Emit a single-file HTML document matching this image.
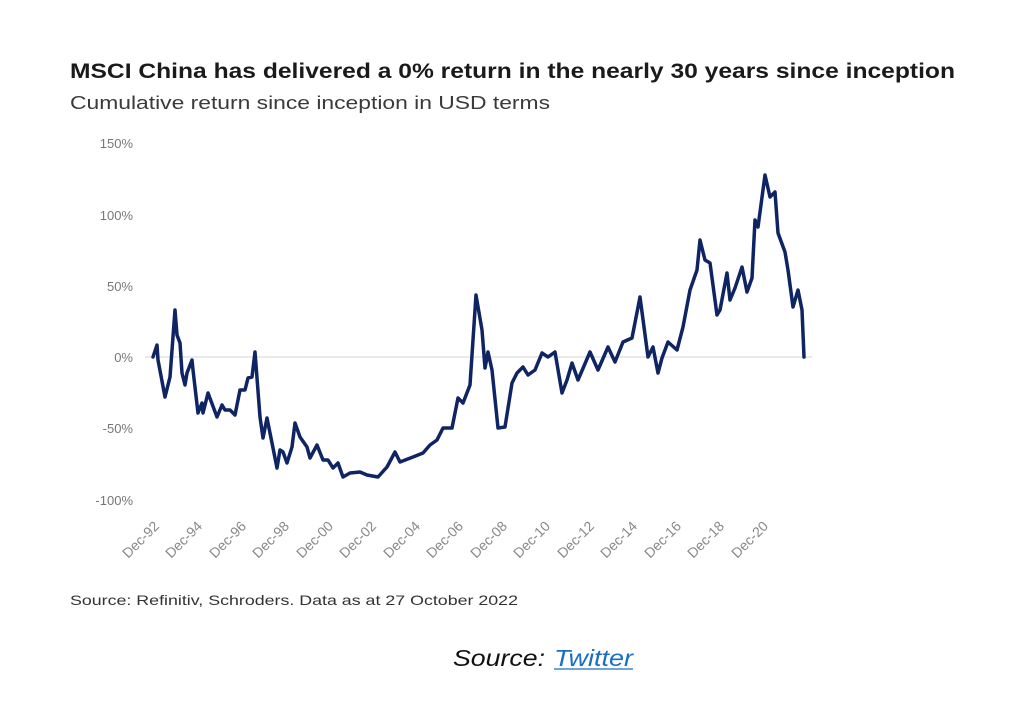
<!DOCTYPE html>
<html><head><meta charset="utf-8"><style>
html,body{margin:0;padding:0;background:#fff;}
svg{display:block;}
</style></head><body>
<svg width="1024" height="721" viewBox="0 0 1024 721" xmlns="http://www.w3.org/2000/svg" font-family="Liberation Sans, sans-serif">
<rect width="1024" height="721" fill="#fff"/>
<text x="70" y="78" font-size="21" font-weight="bold" fill="#1a1a1a" textLength="885" lengthAdjust="spacingAndGlyphs">MSCI China has delivered a 0% return in the nearly 30 years since inception</text>
<text x="70" y="109" font-size="18" fill="#3a3a3a" textLength="480" lengthAdjust="spacingAndGlyphs">Cumulative return since inception in USD terms</text>
<g font-size="13" fill="#777" text-anchor="end">
<text x="133" y="148">150%</text>
<text x="133" y="220">100%</text>
<text x="133" y="291">50%</text>
<text x="133" y="362">0%</text>
<text x="133" y="433">-50%</text>
<text x="133" y="505">-100%</text>
</g>
<line x1="145" y1="357" x2="812" y2="357" stroke="#ddd" stroke-width="1.2"/>
<g font-size="14" fill="#888" text-anchor="end">
<text transform="translate(160,527) rotate(-45)">Dec-92</text>
<text transform="translate(203,527) rotate(-45)">Dec-94</text>
<text transform="translate(247,527) rotate(-45)">Dec-96</text>
<text transform="translate(290,527) rotate(-45)">Dec-98</text>
<text transform="translate(334,527) rotate(-45)">Dec-00</text>
<text transform="translate(377,527) rotate(-45)">Dec-02</text>
<text transform="translate(421,527) rotate(-45)">Dec-04</text>
<text transform="translate(464,527) rotate(-45)">Dec-06</text>
<text transform="translate(508,527) rotate(-45)">Dec-08</text>
<text transform="translate(551,527) rotate(-45)">Dec-10</text>
<text transform="translate(595,527) rotate(-45)">Dec-12</text>
<text transform="translate(638,527) rotate(-45)">Dec-14</text>
<text transform="translate(682,527) rotate(-45)">Dec-16</text>
<text transform="translate(725,527) rotate(-45)">Dec-18</text>
<text transform="translate(769,527) rotate(-45)">Dec-20</text>
</g>
<polyline fill="none" stroke="#0f2563" stroke-width="3.5" stroke-linejoin="round" stroke-linecap="round" points="153,357 157,345 158,360 165,397 170,377 175,310 177,335 180,343 182,373 185,385 187,373 192,360 193,370 198,413 202,403 203,413 208,393 217,417 222,405 225,410 230,410 235,415 240,390 245,390 248,378 252,377 255,352 260,417 263,438 267,418 270,433 277,468 280,450 283,452 287,463 292,447 295,423 300,437 307,447 310,458 317,445 323,460 328,460 333,468 338,463 343,477 350,473 360,472 367,475 378,477 387,467 395,452 400,462 413,457 423,453 430,445 437,440 443,428 452,428 458,398 463,403 470,385 476,295 482,330 485,368 488,352 492,370 498,428 505,427 512,383 517,373 523,367 528,375 535,370 542,353 548,357 555,352 562,393 567,380 572,363 578,380 590,352 598,370 608,347 615,362 623,342 632,338 640,297 648,357 653,347 658,373 662,358 668,342 677,350 683,327 690,290 697,270 700,240 705,260 710,263 717,315 720,310 727,273 730,300 735,288 742,267 747,292 752,278 755,220 758,227 765,175 770,197 775,192 778,233 785,252 788,270 793,307 798,290 802,310 804,357"/>
<text x="70" y="605" font-size="14" fill="#333" textLength="448" lengthAdjust="spacingAndGlyphs">Source: Refinitiv, Schroders. Data as at 27 October 2022</text>
<text x="453" y="666" font-size="23" font-style="italic" fill="#111" textLength="92" lengthAdjust="spacingAndGlyphs">Source:</text>
<text x="554" y="666" font-size="23" font-style="italic" fill="#1a6fc4" textLength="79" lengthAdjust="spacingAndGlyphs">Twitter</text>
<line x1="554" y1="669" x2="633" y2="669" stroke="#1a6fc4" stroke-width="1.3"/>
</svg>
</body></html>
